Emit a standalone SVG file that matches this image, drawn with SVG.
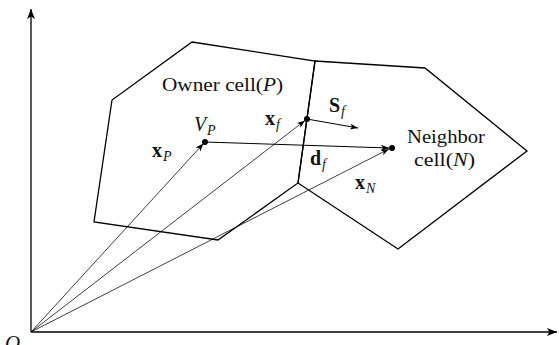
<svg xmlns="http://www.w3.org/2000/svg" width="559" height="345" viewBox="0 0 559 345">
<style>
.cell{fill:none;stroke:#000;stroke-width:1.3;stroke-linejoin:miter}
.ax{stroke:#000;stroke-width:1.3;fill:none}
.vec{stroke:#000;stroke-width:0.75;fill:none}
.vec2{stroke:#000;stroke-width:1;fill:none}
.t{font-family:"Liberation Serif","DejaVu Serif",serif;font-size:19px;fill:#111}
.b{font-family:"Liberation Serif","DejaVu Serif",serif;font-size:20px;font-weight:bold;fill:#111}
.i{font-style:italic}
.s{font-family:"Liberation Serif","DejaVu Serif",serif;font-size:14px;font-style:italic;fill:#111}
</style>
<defs>
<marker id="big" markerUnits="userSpaceOnUse" markerWidth="12" markerHeight="10" refX="10" refY="4" orient="auto">
<path d="M0,0 L10,4 L0,8 L2.5,4 Z" fill="#000"/>
</marker>
<marker id="sm" markerUnits="userSpaceOnUse" markerWidth="10" markerHeight="8" refX="8" refY="3" orient="auto">
<path d="M0,0 L8,3 L0,6 L2,3 Z" fill="#000"/>
</marker>
</defs>
<g id="axes">
<line class="ax" x1="31" y1="332" x2="31" y2="9" marker-end="url(#big)"/>
<line class="ax" x1="31" y1="332" x2="557" y2="332" marker-end="url(#big)"/>
<text class="t i" x="5" y="350" style="font-size:21px">O</text>
</g>
<g id="owner">
<polygon class="cell" points="192,42 315,61 298,183 218,240 94,222 112,100"/>
<text class="t" x="162" y="91" textLength="121" lengthAdjust="spacingAndGlyphs">Owner cell(<tspan class="i">P</tspan>)</text>
</g>
<g id="neighbor">
<polygon class="cell" points="315,61 425,68 527,151 398,249 298,183"/>
<text class="t" x="407" y="143" textLength="78" lengthAdjust="spacingAndGlyphs">Neighbor</text>
<text class="t" x="414" y="166" textLength="61" lengthAdjust="spacingAndGlyphs">cell(<tspan class="i">N</tspan>)</text>
</g>
<g id="connectors">
<line class="vec" x1="31" y1="332" x2="203.5" y2="143.5" marker-end="url(#sm)"/>
<line class="vec" x1="31" y1="332" x2="305" y2="120.5" marker-end="url(#sm)"/>
<line class="vec" x1="31" y1="332" x2="389" y2="149" marker-end="url(#sm)"/>
<line class="vec2" x1="205" y1="142" x2="389" y2="148" marker-end="url(#sm)"/>
<line class="vec2" x1="307" y1="119" x2="358" y2="128" marker-end="url(#sm)"/>
</g>
<g id="points">
<circle cx="205" cy="142" r="3" fill="#000"/>
<circle cx="307" cy="119" r="3" fill="#000"/>
<circle cx="392" cy="148" r="3" fill="#000"/>
</g>
<g id="labels">
<text class="t i" x="194" y="131" style="font-size:20px">V</text><text class="s" x="207" y="135">P</text>
<text class="b" x="265" y="125">x</text><text class="s" x="276" y="129">f</text>
<text class="b" x="152" y="157">x</text><text class="s" x="163" y="161">P</text>
<text class="b" x="329" y="112">S</text><text class="s" x="341" y="116">f</text>
<text class="b" x="310" y="165">d</text><text class="s" x="322" y="169">f</text>
<text class="b" x="355" y="189">x</text><text class="s" x="366" y="193">N</text>
</g>
</svg>
